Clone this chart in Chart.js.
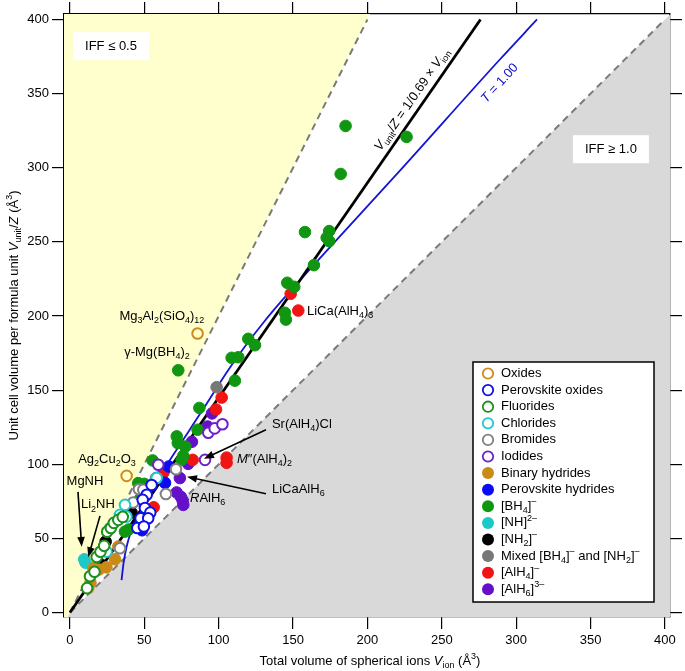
<!DOCTYPE html>
<html>
<head>
<meta charset="utf-8">
<script src="https://cdn.jsdelivr.net/npm/chart.js@4.4.0/dist/chart.umd.min.js"></script>
<style>
  html, body { margin: 0; background: #fff; }
</style>
</head>
<body>
<canvas id="chart" width="685" height="671"></canvas>
<script>
// values, [V_ion, V_unit/Z]
const oxides = [[38.1, 92.2], [85.8, 188.2]];
const perovskiteOxides = [[54.9, 86], [51.6, 79.4], [48.9, 76], [50.4, 70.5], [54, 67.4], [47.5, 63.5], [52.6, 63.6], [45.3, 57], [49.7, 58]];
const fluorides = [[11.5, 16.5], [13.5, 24.5], [16.5, 27.5], [18, 37.5], [20.5, 41], [23, 45], [25, 54.5], [27.5, 57], [29.5, 60.5], [32.5, 62.5], [35.5, 64.5]];
const chlorides = [[24.6, 41.1], [26.9, 56.9], [33.6, 65.9], [37, 72.6], [38, 64.7], [58.3, 90.7]];
const bromides = [[33.6, 43.4], [42.5, 74.2], [46.4, 83.2], [49.3, 82.8], [64.5, 80], [71.3, 96.7]];
const iodides = [[59.4, 99.7], [90.8, 103], [93, 121.3], [97.3, 124.2], [102.5, 127]];
const binaryHydrides = [[12.3, 16.5], [13.8, 20], [15.7, 29.9], [19.5, 29], [24.5, 30.5], [30.3, 35.9], [32.5, 44.5]];
const perovskiteHydrides = [[63.9, 87.5], [66.5, 98.5], [48.5, 55.5]];
const bh4 = [[185.3, 328.2], [226.3, 320.8], [182, 295.8], [158, 256.6], [174.3, 257.3], [172.6, 252.8], [174.3, 250.5],
  [164, 234.3], [146.1, 222.4], [150.8, 219.7], [144.5, 202.2], [145.2, 197.6], [119.9, 184.6], [124.4, 180.3],
  [108.7, 171.8], [113.2, 172.2], [110.9, 156.4], [72.8, 163.4], [87, 138], [85.8, 123.3], [71.8, 118.8],
  [72.5, 114.3], [77.6, 112], [76.2, 105.7], [75.1, 103], [55.6, 102.6], [37, 54.6], [39.5, 56], [45.9, 87.3],
  [50, 86.8], [47, 76.5]];
const nh = [[9.6, 35.9], [10.5, 33.6]];
const nh2 = [[41.4, 67.4], [24, 47.9], [20.9, 32.4]];
const mixed = [[98.6, 152], [57.8, 90.7]];
const alh4 = [[148.4, 215], [153.5, 203.7], [102, 145], [98.2, 137], [82.5, 103], [105.3, 104.5], [105.3, 101], [62.9, 94.5], [56.3, 71]];
const alh6 = [[95.5, 134.3], [92.5, 125.5], [82, 115.2], [79.5, 100.3], [73.9, 90.7], [71.7, 81], [74.6, 78], [75.8, 75.5], [76.2, 72.6]];

// T = 1.00 curve
const tCurve = [[34.7, 21.9], [36, 33], [38, 44], [40.5, 53], [44, 62], [47.5, 70], [50, 76], [65, 99.5], [80, 122.5],
  [92, 141], [106, 163], [118, 180], [130, 195.5], [143, 211], [155, 224.5], [173, 244.5], [220, 296], [289, 373], [314, 400]];
const packingRatio = 0.69;
const tickValues = [0, 50, 100, 150, 200, 250, 300, 350, 400];

const FONT = '"Liberation Sans", Arial, sans-serif';
const toPts = arr => arr.map(([x, y]) => ({ x, y }));

// label markup: *italic*, _{sub}, ^{sup}
const categories = [
  { label: 'Oxides', data: oxides, color: '#CF8A1F', open: true },
  { label: 'Perovskite oxides', data: perovskiteOxides, color: '#1010E8', open: true },
  { label: 'Fluorides', data: fluorides, color: '#1C8F1C', open: true },
  { label: 'Chlorides', data: chlorides, color: '#22C8CC', open: true },
  { label: 'Bromides', data: bromides, color: '#808080', open: true },
  { label: 'Iodides', data: iodides, color: '#6A22C8', open: true },
  { label: 'Binary hydrides', data: binaryHydrides, color: '#C98A16', open: false },
  { label: 'Perovskite hydrides', data: perovskiteHydrides, color: '#0A0AF5', open: false },
  { label: '[BH_{4}]^{–}', data: bh4, color: '#119611', open: false },
  { label: '[NH]^{2–}', data: nh, color: '#1CC8C8', open: false },
  { label: '[NH_{2}]^{–}', data: nh2, color: '#000000', open: false },
  { label: 'Mixed [BH_{4}]^{–} and [NH_{2}]^{–}', data: mixed, color: '#777777', open: false },
  { label: '[AlH_{4}]^{–}', data: alh4, color: '#F01414', open: false },
  { label: '[AlH_{6}]^{3–}', data: alh6, color: '#6410C8', open: false }
];

function richParts(str) {
  const parts = [];
  let buf = '', it = false, i = 0;
  const push = (t, mode) => { if (t) parts.push({ t, mode, it }); };
  while (i < str.length) {
    const c = str[i];
    if (c === '*') { push(buf, 'n'); buf = ''; it = !it; i++; continue; }
    if ((c === '_' || c === '^') && str[i + 1] === '{') {
      push(buf, 'n'); buf = '';
      const j = str.indexOf('}', i);
      const save = it; it = false;
      push(str.slice(i + 2, j), c === '_' ? 'sub' : 'sup');
      it = save;
      i = j + 1; continue;
    }
    buf += c; i++;
  }
  push(buf, 'n');
  return parts;
}
function partFont(p, size) {
  const s = p.mode === 'n' ? size : Math.round(size * 0.72);
  return (p.it ? 'italic ' : '') + s + 'px ' + FONT;
}
function drawRich(ctx, str, x, y, size, color, align) {
  const parts = richParts(str);
  let w = 0;
  parts.forEach(p => { ctx.font = partFont(p, size); w += ctx.measureText(p.t).width; });
  let cx = align === 'center' ? x - w / 2 : align === 'right' ? x - w : x;
  ctx.fillStyle = color;
  ctx.textAlign = 'left';
  ctx.textBaseline = 'middle';
  parts.forEach(p => {
    ctx.font = partFont(p, size);
    const dy = p.mode === 'sub' ? size * 0.32 : p.mode === 'sup' ? -size * 0.36 : 0;
    ctx.fillText(p.t, cx, y + dy);
    cx += ctx.measureText(p.t).width;
  });
  return w;
}
function arrow(ctx, x1, y1, x2, y2) {
  const a = Math.atan2(y2 - y1, x2 - x1);
  ctx.strokeStyle = '#000';
  ctx.fillStyle = '#000';
  ctx.lineWidth = 1.6;
  ctx.beginPath();
  ctx.moveTo(x1, y1);
  ctx.lineTo(x2 - 7 * Math.cos(a), y2 - 7 * Math.sin(a));
  ctx.stroke();
  ctx.beginPath();
  ctx.moveTo(x2, y2);
  ctx.lineTo(x2 - 10 * Math.cos(a) + 3.8 * Math.sin(a), y2 - 10 * Math.sin(a) - 3.8 * Math.cos(a));
  ctx.lineTo(x2 - 10 * Math.cos(a) - 3.8 * Math.sin(a), y2 - 10 * Math.sin(a) + 3.8 * Math.cos(a));
  ctx.closePath();
  ctx.fill();
}

// text labels placed in data coordinates
const notes = [
  { text: 'Mg_{3}Al_{2}(SiO_{4})_{12}', x: 61.8, y: 199.7, align: 'center' },
  { text: 'γ-Mg(BH_{4})_{2}', x: 58.5, y: 175.3, align: 'center' },
  { text: 'Ag_{2}Cu_{2}O_{3}', x: 24.9, y: 103, align: 'center' },
  { text: 'MgNH', x: 10.1, y: 88.2, align: 'center' },
  { text: 'Li_{2}NH', x: 18.8, y: 72.6, align: 'center' },
  { text: 'LiCa(AlH_{4})_{3}', x: 159.3, y: 203, align: 'left' },
  { text: 'Sr(AlH_{4})Cl', x: 135.8, y: 126.7, align: 'left' },
  { text: '*M*″(AlH_{4})_{2}', x: 112.3, y: 103, align: 'left' },
  { text: 'LiCaAlH_{6}', x: 135.8, y: 82.8, align: 'left' },
  { text: '*R*AlH_{6}', x: 80.7, y: 76.7, align: 'left' }
];
const arrows = [
  [5.4, 81.4, 7.9, 44.3],
  [20.2, 65.2, 12.3, 37.3],
  [131.8, 123.3, 90.1, 103.7],
  [131.8, 80.1, 78.7, 91.6]
];

const decor = {
  id: 'decor',
  afterDatasetsDraw(chart) {
    const ctx = chart.ctx;
    const sx = chart.scales.x, sy = chart.scales.y;
    const px = v => sx.getPixelForValue(v), py = v => sy.getPixelForValue(v);
    ctx.save();
    // region boxes
    const boxes = [['IFF ≤ 0.5', 27.6, 382], ['IFF ≥ 1.0', 363.7, 312.5]];
    boxes.forEach(([t, x, y]) => {
      ctx.fillStyle = '#fff';
      ctx.fillRect(px(x) - 38, py(y) - 14, 76, 28);
      drawRich(ctx, t, px(x), py(y), 13, '#000', 'center');
    });
    // rotated line labels
    const ang = Math.atan2(py(0) - py(400), px(400 * packingRatio) - px(0));
    ctx.save();
    ctx.translate(px(230), py(346));
    ctx.rotate(-ang);
    drawRich(ctx, '*V*_{unit}/*Z* = 1/0.69 × *V*_{ion}', 0, 0, 13, '#000', 'center');
    ctx.restore();
    const n = tCurve.length;
    const angT = Math.atan2(py(tCurve[n - 3][1]) - py(tCurve[n - 1][1]), px(tCurve[n - 1][0]) - px(tCurve[n - 3][0]));
    ctx.save();
    ctx.translate(px(289), py(357));
    ctx.rotate(-angT);
    drawRich(ctx, '*T* = 1.00', 0, 0, 13, '#1010C8', 'center');
    ctx.restore();
    notes.forEach(nt => drawRich(ctx, nt.text, px(nt.x), py(nt.y), 13, '#000', nt.align));
    arrows.forEach(([a, b, c, d]) => arrow(ctx, px(a), py(b), px(c), py(d)));

    // legend
    const lx = 473, ly = 362, lw = 181, lh = 240;
    ctx.fillStyle = '#fff';
    ctx.fillRect(lx, ly, lw, lh);
    ctx.strokeStyle = '#000';
    ctx.lineWidth = 1.5;
    ctx.strokeRect(lx, ly, lw, lh);
    categories.forEach((c, i) => {
      const y = ly + 11.5 + i * 16.6;
      ctx.beginPath();
      ctx.arc(lx + 15, y, c.open ? 5.2 : 6, 0, Math.PI * 2);
      if (c.open) { ctx.strokeStyle = c.color; ctx.lineWidth = 1.8; ctx.stroke(); }
      else { ctx.fillStyle = c.color; ctx.fill(); }
      drawRich(ctx, c.label, lx + 28, y, 13, '#000', 'left');
    });
    ctx.restore();
  },
  afterDraw(chart) {
    const ctx = chart.ctx;
    const a = chart.chartArea;
    ctx.save();
    drawRich(ctx, 'Total volume of spherical ions *V*_{ion} (Å^{3})', (a.left + a.right) / 2 + 3, 661, 13, '#000', 'center');
    ctx.translate(14, (a.top + a.bottom) / 2);
    ctx.rotate(-Math.PI / 2);
    drawRich(ctx, 'Unit cell volume per formula unit *V*_{unit}/*Z* (Å^{3})', 0, 0, 13, '#000', 'center');
    ctx.restore();
  }
};

const setTicks = scale => { scale.ticks = tickValues.map(v => ({ value: v })); };
const gridOpts = { drawOnChartArea: false, drawTicks: true, tickLength: 12, color: '#000', lineWidth: 1.2 };
const borderOpts = { display: true, color: '#000', width: 1.3 };
const tickFont = { family: FONT, size: 13 };
const xRange = { min: -4, max: 403.4 };
const yRange = { min: -3, max: 403.7 };

const pointSets = categories.map(c => ({
  type: 'scatter',
  label: c.label,
  data: toPts(c.data),
  showLine: false,
  pointRadius: c.open ? 5.3 : 5.8,
  pointBorderWidth: c.open ? 2 : 1,
  pointBorderColor: c.color,
  pointBackgroundColor: c.open ? (c.label === 'Oxides' ? 'rgba(0,0,0,0)' : '#fff') : c.color,
  order: 1
}));

const lineSets = [
  { type: 'line', data: toPts([[-4, -8], [202, 404]]), fill: 'end', backgroundColor: '#FFFFCE', borderWidth: 0, pointRadius: 0, order: 30 },
  { type: 'line', data: toPts([[-4, -4], [404, 404]]), fill: 'start', backgroundColor: '#D9D9D9', borderWidth: 0, pointRadius: 0, order: 30 },
  { type: 'line', data: toPts([[0, 0], [200, 400]]), borderColor: '#7a7a7a', borderWidth: 2, borderDash: [7, 5], pointRadius: 0, fill: false, order: 20 },
  { type: 'line', data: toPts([[0, 0], [400, 400]]), borderColor: '#7a7a7a', borderWidth: 2, borderDash: [7, 5], pointRadius: 0, fill: false, order: 20 },
  { type: 'line', data: toPts(tCurve), borderColor: '#1414D2', borderWidth: 1.8, cubicInterpolationMode: 'monotone', pointRadius: 0, fill: false, order: 10 },
  { type: 'line', data: toPts([[0, 0], [400 * packingRatio, 400]]), borderColor: '#000', borderWidth: 2.8, pointRadius: 0, fill: false, order: 9 }
];

new Chart(document.getElementById('chart'), {
  type: 'scatter',
  data: { datasets: [...pointSets, ...lineSets] },
  options: {
    responsive: false,
    animation: false,
    devicePixelRatio: 1,
    layout: { padding: 0 },
    plugins: { legend: { display: false }, tooltip: { enabled: false } },
    scales: {
      x: { type: 'linear', position: 'bottom', ...xRange, afterBuildTicks: setTicks, grid: gridOpts, border: borderOpts,
        ticks: { font: tickFont, color: '#000', padding: 4, autoSkip: false, maxRotation: 0 }, afterFit: s => { s.height = 54; } },
      x2: { type: 'linear', position: 'top', ...xRange, afterBuildTicks: setTicks, grid: gridOpts, border: borderOpts,
        ticks: { display: false }, afterFit: s => { s.height = 14; } },
      y: { type: 'linear', position: 'left', ...yRange, afterBuildTicks: setTicks, grid: gridOpts, border: borderOpts,
        ticks: { font: tickFont, color: '#000', padding: 3, autoSkip: false }, afterFit: s => { s.width = 64; } },
      y2: { type: 'linear', position: 'right', ...yRange, afterBuildTicks: setTicks, grid: gridOpts, border: borderOpts,
        ticks: { display: false }, afterFit: s => { s.width = 15; } }
    }
  },
  plugins: [decor]
});
</script>
</body>
</html>
